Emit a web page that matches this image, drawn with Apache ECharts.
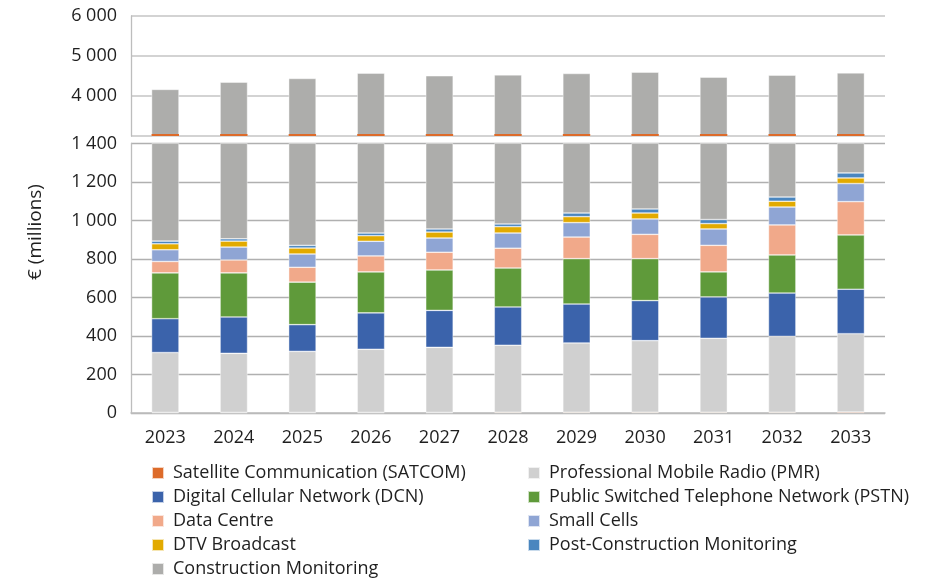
<!DOCTYPE html>
<html>
<head>
<meta charset="utf-8">
<script src="https://cdn.jsdelivr.net/npm/echarts@6/dist/echarts.min.js"></script>
<style>
html,body{margin:0;padding:0;background:#fff;}
#chart{width:937px;height:578px;}
</style>
</head>
<body>
<div id="chart"></div>
<script>
const years = ['2023','2024','2025','2026','2027','2028','2029','2030','2031','2032','2033'];
const satcom = [3,3,3,3,3,4,4,4,4,4,5];
const pmr = [311,307,317,328,338,348,360,372,384,394,407];
const dcn = [176,189,139,189,192,199,202,208,215,225,231];
const pstn = [238,229,221,213,210,202,236,218,130,198,282];
const dataCentre = [59,67,77,83,92,103,112,126,138,156,173];
const smallCells = [61,67,69,76,74,79,75,80,85,93,94];
const dtv = [31,31,31,29,31,33,31,31,28,30,29];
const postConstruction = [14,12,14,14,16,14,19,21,21,22,26];
const construction = [3272,3441,3568,3637,3549,3547,3524,3536,3466,3399,3331];

const lowerTicks = {min:0, max:1400, interval:200};
const upperTicks = {min:3000, max:6000, interval:1000};

const seriesDefs = [
  {name:'Satellite Communication (SATCOM)', data:satcom, color:'#dd6b2a'},
  {name:'Professional Mobile Radio (PMR)', data:pmr, color:'#d0d0d0'},
  {name:'Digital Cellular Network (DCN)', data:dcn, color:'#3b63ab'},
  {name:'Public Switched Telephone Network (PSTN)', data:pstn, color:'#5f9a3a'},
  {name:'Data Centre', data:dataCentre, color:'#f1a98a'},
  {name:'Small Cells', data:smallCells, color:'#8fa5d4'},
  {name:'DTV Broadcast', data:dtv, color:'#e2aa00'},
  {name:'Post-Construction Monitoring', data:postConstruction, color:'#4a86bf'},
  {name:'Construction Monitoring', data:construction, color:'#adadab'}
];

const FONT = 'Open Sans';
const TXT = '#1f1f1f';
const fmt = v => String(v).replace(/\B(?=(\d{3})+(?!\d))/g, ' ');

const chart = echarts.init(document.getElementById('chart'), null, {renderer:'canvas'});

const series = [];
seriesDefs.forEach(d => {
  [0,1].forEach(gi => {
    series.push({
      type:'bar', name:d.name, data:d.data, stack:'s'+gi,
      xAxisIndex:gi, yAxisIndex:gi, barWidth:'40%',
      itemStyle:{color:d.color, borderColor:'rgba(255,255,255,0.7)', borderWidth:0.6},
      emphasis:{disabled:true}, animation:false
    });
  });
});
series.push({
  type:'custom', name:'satcom-upper', xAxisIndex:0, yAxisIndex:0, z:10,
  data: years.map((y,i)=>[i, satcom[i]]),
  encode:{x:0,y:1}, animation:false,
  renderItem:function(params, api){
    const idx = api.value(0);
    const base = api.coord([idx, upperTicks.min]);
    const w = api.size([1,0])[0]*0.4;
    return {type:'rect', shape:{x:base[0]-w/2, y:base[1]-2, width:w, height:2}, style:{fill:'#dd6b2a'}};
  }
});

const legendCommon = {
  orient:'vertical', top:464, height:114, padding:0, itemWidth:12, itemHeight:12, itemGap:6,
  icon:'rect', selectedMode:false,
  textStyle:{fontFamily:FONT, fontSize:18, color:TXT, lineHeight:18, padding:[0,0,0,4]}
};

const option = {
  backgroundColor:'#fff',
  animation:false,
  grid:[
    {left:131, right:52, top:16, height:120},
    {left:131, right:52, top:143.5, height:269.5}
  ],
  xAxis:[
    {type:'category', data:years, gridIndex:0, show:true,
     axisLine:{show:false}, axisTick:{show:false}, axisLabel:{show:false}},
    {type:'category', data:years, gridIndex:1,
     axisLine:{show:true, lineStyle:{color:'#bdbdbd', width:1.5}}, axisTick:{show:false},
     axisLabel:{fontFamily:FONT, fontSize:18, color:TXT, margin:16}}
  ],
  yAxis:[
    {type:'value', gridIndex:0, min:upperTicks.min, max:upperTicks.max, interval:upperTicks.interval,
     axisLine:{show:true, lineStyle:{color:'#bdbdbd', width:1.3}}, axisTick:{show:false},
     splitLine:{lineStyle:{color:'#c4c4c4', width:1.5}},
     axisLabel:{showMinLabel:false, formatter:fmt, fontFamily:FONT, fontSize:18, color:TXT, margin:14}},
    {type:'value', gridIndex:1, min:lowerTicks.min, max:lowerTicks.max, interval:lowerTicks.interval,
     axisLine:{show:true, lineStyle:{color:'#bdbdbd', width:1.3}}, axisTick:{show:false},
     splitLine:{lineStyle:{color:'#b0b0b0', width:1.3}},
     axisLabel:{formatter:fmt, fontFamily:FONT, fontSize:18, color:TXT, margin:14}}
  ],
  legend:[
    Object.assign({}, legendCommon, {left:151, data:[
      'Satellite Communication (SATCOM)','Digital Cellular Network (DCN)','Data Centre','DTV Broadcast','Construction Monitoring']}),
    Object.assign({}, legendCommon, {left:527, data:[
      'Professional Mobile Radio (PMR)','Public Switched Telephone Network (PSTN)','Small Cells','Post-Construction Monitoring']})
  ],
  graphic:[
    {type:'text', x:36, y:232, rotation:Math.PI/2,
     style:{text:'€ (millions)', font:'19px "Open Sans"', fill:TXT, textAlign:'center', textVerticalAlign:'middle'}}
  ],
  series:series
};
chart.setOption(option);
</script>
</body>
</html>
